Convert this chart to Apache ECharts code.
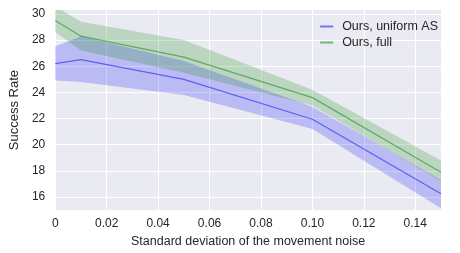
<!DOCTYPE html>
<html>
<head>
<meta charset="utf-8">
<script src="https://cdn.jsdelivr.net/npm/echarts@6/dist/echarts.min.js"></script>
<style>html,body{margin:0;padding:0;background:#fff}#c{width:460px;height:253px}</style>
</head>
<body>
<div id="c"></div>
<script>
var xs = [0, 0.01, 0.05, 0.1, 0.15];
var fullMean = [29.5, 28.3, 26.7, 23.6, 17.9];
var fullUpper = [30.6, 29.4, 28.0, 24.2, 18.8];
var fullLower = [28.6, 27.2, 25.5, 23.0, 17.2];
var unifMean = [26.2, 26.5, 25.0, 21.95, 16.25];
var unifUpper = [27.5, 28.3, 26.4, 22.9, 17.3];
var unifLower = [24.9, 24.8, 23.8, 21.2, 15.15];
var xTicks = [0, 0.02, 0.04, 0.06, 0.08, 0.10, 0.12, 0.14];
var yTicks = [16, 18, 20, 22, 24, 26, 28, 30];
var names = ['Ours, uniform AS', 'Ours, full'];

function pairs(a) { return xs.map(function (x, i) { return [x, a[i]]; }); }
function bandRows(l, u) { return xs.map(function (x, i) { return [x, l[i], u[i]]; }); }

var FONT = 'Liberation Sans, Arial, sans-serif';
var FS = 12, NFS = 12.5;
var blueLine = 'rgba(0,0,255,0.5)', blueFill = 'rgba(0,0,255,0.2)';
var greenLine = 'rgba(0,128,0,0.5)', greenFill = 'rgba(0,128,0,0.2)';

function bandSeries(rows, fill) {
  return {
    type: 'custom', silent: true, clip: true, z: 1,
    encode: { x: 0, y: [1, 2] },
    data: rows,
    renderItem: function (params, api) {
      if (params.dataIndexInside !== 0) return null;
      var top = [], bot = [];
      for (var i = 0; i < rows.length; i++) {
        top.push(api.coord([rows[i][0], rows[i][2]]));
        bot.unshift(api.coord([rows[i][0], rows[i][1]]));
      }
      return { type: 'polygon', shape: { points: top.concat(bot) }, style: { fill: fill } };
    }
  };
}

var chart = echarts.init(document.getElementById('c'), null, { renderer: 'canvas' });
chart.setOption({
  animation: false,
  backgroundColor: '#fff',
  grid: { left: 52, right: 19, top: 10, bottom: 35, show: true, backgroundColor: '#EAEAF2', borderWidth: 0 },
  legend: {
    data: names, orient: 'vertical', right: 17, top: 15, itemGap: 3,
    icon: 'rect', itemWidth: 13, itemHeight: 2,
    textStyle: { fontFamily: FONT, fontSize: NFS, color: '#262626', padding: [0, 0, 0, 4] }
  },
  xAxis: {
    type: 'value', min: 0, max: 0.15,
    name: 'Standard deviation of the movement noise', nameLocation: 'middle', nameGap: 17,
    nameTextStyle: { fontFamily: FONT, fontSize: NFS, color: '#262626' },
    axisLine: { show: false }, axisTick: { show: false, customValues: xTicks },
    axisLabel: { customValues: xTicks, margin: 8, fontFamily: FONT, fontSize: FS, color: '#262626',
      formatter: function (v) { return v === 0 ? '0' : v.toFixed(2); } },
    splitLine: { show: true, lineStyle: { color: '#fff', width: 1 } }
  },
  yAxis: {
    type: 'value', min: 15, max: 30.3,
    name: 'Success Rate', nameLocation: 'middle', nameGap: 33,
    nameTextStyle: { fontFamily: FONT, fontSize: 13, color: '#262626' },
    axisLine: { show: false }, axisTick: { show: false, customValues: yTicks },
    axisLabel: { customValues: yTicks, margin: 10, fontFamily: FONT, fontSize: FS, color: '#262626' },
    splitLine: { show: true, lineStyle: { color: '#fff', width: 1 } }
  },
  series: [
    bandSeries(bandRows(unifLower, unifUpper), blueFill),
    bandSeries(bandRows(fullLower, fullUpper), greenFill),
    { type: 'line', name: names[0], data: pairs(unifMean), symbol: 'none', z: 3,
      color: blueLine, lineStyle: { color: blueLine, width: 1.2 } },
    { type: 'line', name: names[1], data: pairs(fullMean), symbol: 'none', z: 3,
      color: greenLine, lineStyle: { color: greenLine, width: 1.2 } }
  ]
});
</script>
</body>
</html>
